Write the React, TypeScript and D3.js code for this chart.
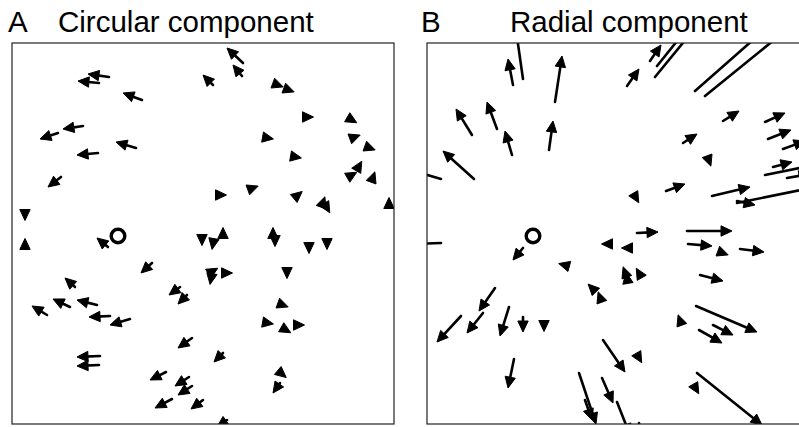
import React from "react";
import * as d3 from "d3";

// Panel coordinates: x from left edge of box, y upward from bottom edge of box (arbitrary units).
// Arrows: [x0, y0, x1, y1] (tail -> tip)
const circularArrows: number[][] = [
  [97, 347, 76, 350], [87, 341, 66, 343], [130, 324, 111, 331], [71, 298, 51, 295],
  [46, 291, 28, 285], [124, 276, 104, 282], [86, 271, 65, 269], [49, 247, 36, 237],
  [201, 339, 191, 349], [231, 361, 215, 376], [230, 348, 221, 359], [96, 177, 85, 186],
  [140, 161, 129, 151], [63, 137, 53, 146], [85, 119, 65, 124], [58, 117, 41, 125],
  [35, 109, 20, 118], [98, 108, 77, 107], [118, 105, 98, 99], [88, 68, 65, 67],
  [87, 59, 65, 58], [168, 137, 157, 129], [175, 129, 166, 120], [180, 86, 166, 76],
  [154, 52, 138, 44], [177, 47, 163, 38], [180, 38, 166, 29], [160, 25, 143, 16],
  [191, 24, 179, 15], [211, 71, 202, 62], [268, 41, 261, 31], [215, 4, 205, -3],
];
// Near-zero vectors: [x, y, direction in degrees counter-clockwise from east]
const circularHeads: number[][] = [
  [13, 209, -90], [13, 180, 90], [266, 339, -20], [277, 334, -20], [296, 307, 0],
  [340, 304, -30], [256, 286, -10], [343, 287, 20], [358, 276, -20], [284, 267, -10],
  [347, 258, 60], [340, 249, 30], [361, 247, 70], [241, 236, 20], [209, 229, 0],
  [286, 229, 40], [311, 222, 70], [315, 216, -60], [377, 221, 90], [211, 191, 90],
  [261, 191, 90], [263, 183, -90], [190, 184, -90], [201, 180, -100], [201, 153, 30],
  [199, 145, -100], [215, 151, 0], [275, 151, -90], [297, 176, -90], [315, 180, -90],
  [271, 119, -20], [256, 101, -10], [274, 94, -30], [287, 99, 0], [270, 50, -40],
];

const radialArrows: number[][] = [
  [96, 345, 89, 394], [86, 339, 81, 365], [128, 322, 135, 368], [45, 289, 29, 315],
  [70, 295, 60, 322], [85, 269, 78, 293], [122, 274, 126, 303], [47, 245, 16, 273],
  [14, 245, -17, 254], [14, 181, -17, 180], [96, 176, 86, 164], [68, 136, 52, 113],
  [56, 111, 40, 91], [34, 108, 10, 82], [82, 117, 73, 88], [96, 107, 96, 92],
  [87, 65, 81, 36], [152, 51, 169, 0], [158, 24, 165, 4], [176, 84, 198, 52],
  [175, 46, 186, 21], [190, 22, 203, -11], [212, 1, 215, -16], [210, 191, 231, 192],
  [260, 193, 305, 193], [261, 180, 285, 178], [313, 175, 337, 172], [273, 149, 296, 143],
  [269, 118, 330, 92], [286, 99, 306, 89], [272, 94, 295, 81], [270, 51, 335, -1],
  [223, 363, 234, 379], [230, 358, 263, 399], [228, 347, 273, 402], [200, 338, 212, 355],
  [268, 333, 343, 399], [278, 328, 363, 397], [296, 303, 312, 313], [338, 302, 358, 311],
  [341, 285, 364, 294], [356, 275, 378, 283], [256, 281, 270, 290], [346, 257, 365, 262],
  [338, 249, 388, 259], [360, 246, 383, 250], [239, 233, 258, 240], [285, 228, 323, 237],
  [310, 221, 393, 238], [310, 223, 328, 219],
];
const radialHeads: number[][] = [
  [137, 159, 165], [180, 180, 180], [200, 176, 180], [165, 136, 135], [173, 127, 110],
  [198, 152, 110], [212, 151, 120], [200, 146, 100], [253, 104, 110], [296, 171, -20],
  [117, 98, -90], [212, 66, -60], [269, 35, -60], [282, 263, -70], [209, 226, -60],
];

const origin = [106, 188];
const panelTitles = [
  { letter: "A", title: "Circular component" },
  { letter: "B", title: "Radial component" },
];

const W = 799;
const H = 427;
const BOX_TOP = 43;
const BOX_BOTTOM = 424;
const BOX_W = 382;
const HEAD_L = 11;
const HEAD_HW = 5.2;

function headPath(tx: number, ty: number, ux: number, uy: number) {
  const bx = tx - ux * HEAD_L;
  const by = ty - uy * HEAD_L;
  const nx = -uy;
  const ny = ux;
  const p = d3.path();
  p.moveTo(tx, ty);
  p.lineTo(bx + nx * HEAD_HW, by + ny * HEAD_HW);
  p.lineTo(bx - nx * HEAD_HW, by - ny * HEAD_HW);
  p.closePath();
  return p.toString();
}

function Panel({ left, arrows, heads, id, letter, title, letterX, titleX }: any) {
  const x = d3.scaleLinear().domain([0, BOX_W]).range([left, left + BOX_W]);
  const y = d3.scaleLinear().domain([0, BOX_BOTTOM - BOX_TOP]).range([BOX_BOTTOM, BOX_TOP]);
  const clipId = `clip-${id}`;
  return (
    <g>
      <defs>
        <clipPath id={clipId}>
          <rect x={left} y={BOX_TOP} width={BOX_W} height={BOX_BOTTOM - BOX_TOP} />
        </clipPath>
      </defs>
      <text x={letterX} y={32} fontSize={29.5} fontFamily="Liberation Sans, Arial, sans-serif">{letter}</text>
      <text x={titleX} y={32} fontSize={29.5} fontFamily="Liberation Sans, Arial, sans-serif">{title}</text>
      <g clipPath={`url(#${clipId})`}>
        {arrows.map((a: number[], i: number) => {
          const x0 = x(a[0]), y0 = y(a[1]), x1 = x(a[2]), y1 = y(a[3]);
          const len = Math.hypot(x1 - x0, y1 - y0);
          const ux = (x1 - x0) / len, uy = (y1 - y0) / len;
          const sx = x1 - ux * HEAD_L * 0.7, sy = y1 - uy * HEAD_L * 0.7;
          return (
            <g key={i}>
              {len > HEAD_L * 0.7 && (
                <line x1={x0} y1={y0} x2={sx} y2={sy} stroke="#000" strokeWidth={2.6} strokeLinecap="round" />
              )}
              <path d={headPath(x1, y1, ux, uy)} fill="#000" stroke="#000" strokeWidth={1} strokeLinejoin="round" />
            </g>
          );
        })}
        {heads.map((h: number[], i: number) => {
          const cx = x(h[0]), cy = y(h[1]);
          const ang = (h[2] * Math.PI) / 180;
          const ux = Math.cos(ang), uy = -Math.sin(ang);
          return (
            <path key={i} d={headPath(cx + ux * HEAD_L / 2, cy + uy * HEAD_L / 2, ux, uy)}
              fill="#000" stroke="#000" strokeWidth={1} strokeLinejoin="round" />
          );
        })}
      </g>
      <circle cx={x(origin[0])} cy={y(origin[1])} r={6.8} fill="none" stroke="#000" strokeWidth={3.4} />
      <rect x={left} y={BOX_TOP} width={BOX_W} height={BOX_BOTTOM - BOX_TOP} fill="none" stroke="#222" strokeWidth={1.2} />
    </g>
  );
}

export default function App() {
  return (
    <svg width={W} height={H} style={{ position: "absolute", left: 0, top: 0, background: "#fff" }}>
      <rect x={0} y={0} width={W} height={H} fill="#fff" />
      <Panel left={12} arrows={circularArrows} heads={circularHeads} id="a"
        letter={panelTitles[0].letter} title={panelTitles[0].title} letterX={8} titleX={58} />
      <Panel left={427} arrows={radialArrows} heads={radialHeads} id="b"
        letter={panelTitles[1].letter} title={panelTitles[1].title} letterX={421} titleX={510} />
    </svg>
  );
}
